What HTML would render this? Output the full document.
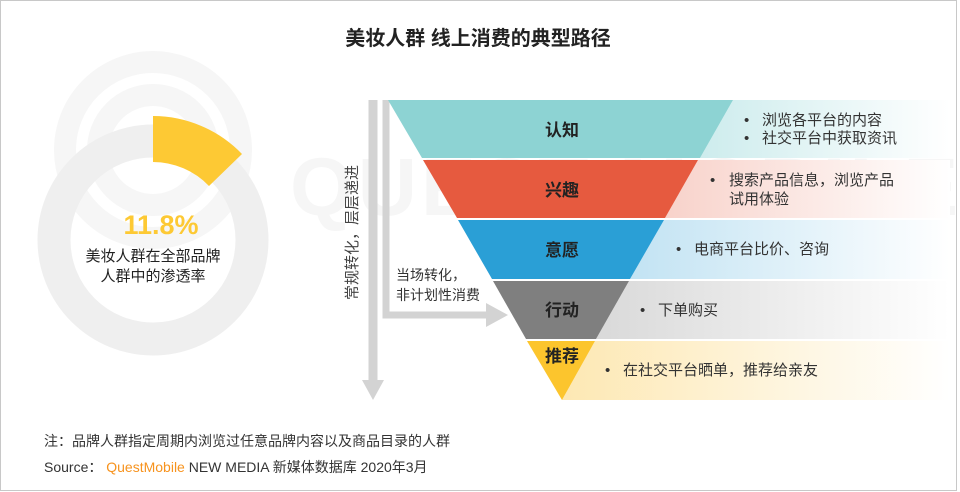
<!DOCTYPE html>
<html><head><meta charset="utf-8"><style>
html,body{margin:0;padding:0;background:#fff}
svg{display:block}
text{font-family:"Liberation Sans","Noto Sans CJK SC",sans-serif}
</style></head><body>
<svg width="960" height="492" viewBox="0 0 960 492" xmlns="http://www.w3.org/2000/svg">
<defs>
<linearGradient id="g1" x1="0" x2="1"><stop offset="0" stop-color="#cdeced"/><stop offset="1" stop-color="#fff"/></linearGradient>
<linearGradient id="g2" x1="0" x2="1"><stop offset="0" stop-color="#f8d2ca"/><stop offset="1" stop-color="#fff"/></linearGradient>
<linearGradient id="g3" x1="0" x2="1"><stop offset="0" stop-color="#c2e3f3"/><stop offset="1" stop-color="#fff"/></linearGradient>
<linearGradient id="g4" x1="0" x2="1"><stop offset="0" stop-color="#d9d9d9"/><stop offset="1" stop-color="#fff"/></linearGradient>
<linearGradient id="g5" x1="0" x2="1"><stop offset="0" stop-color="#fde8b3"/><stop offset="1" stop-color="#fff"/></linearGradient>
</defs>
<rect x="0.5" y="0.5" width="956" height="490" fill="#fff" stroke="#c8c8c8"/>
<!-- watermark -->
<g fill="none" stroke="#f6f6f6" stroke-width="22">
<circle cx="153" cy="150" r="88"/>
<circle cx="153" cy="150" r="55"/>
</g>
<text x="290" y="215" font-size="82" font-weight="bold" fill="#f6f6f6" letter-spacing="4">QUEST MOBILE</text>
<!-- title -->
<text x="478" y="45" font-size="20" font-weight="bold" fill="#222" text-anchor="middle">美妆人群 线上消费的典型路径</text>
<!-- donut -->
<circle cx="153" cy="240" r="99" fill="none" stroke="#efefef" stroke-width="33"/>
<path d="M153 116 A124 124 0 0 1 242 154 L209 186 A78 78 0 0 0 153 162 Z" fill="#fdc934"/>
<text x="161" y="234" font-size="27" font-weight="bold" fill="#fdc934" text-anchor="middle">11.8%</text>
<text x="153" y="261" font-size="15" fill="#222" text-anchor="middle">美妆人群在全部品牌</text>
<text x="153" y="281" font-size="15" fill="#222" text-anchor="middle">人群中的渗透率</text>
<!-- arrows -->
<line x1="373" y1="100" x2="373" y2="382" stroke="#d3d3d3" stroke-width="9"/>
<polygon points="362,380 384,380 373,400" fill="#d3d3d3"/>
<polyline points="386,100 386,315 488,315" fill="none" stroke="#d3d3d3" stroke-width="7"/>
<polygon points="486,303 486,327 508,315" fill="#d3d3d3"/>
<text transform="translate(357,300) rotate(-90)" font-size="15" fill="#444">常规转化，层层递进</text>
<text x="396" y="280" font-size="14" fill="#333">当场转化，</text>
<text x="396" y="300" font-size="14" fill="#333">非计划性消费</text>
<!-- gradients -->
<polygon points="733,100 950,100 950,158 700,158" fill="url(#g1)"/>
<polygon points="698,160 950,160 950,218 665,218" fill="url(#g2)"/>
<polygon points="664,220 950,220 950,279 630,279" fill="url(#g3)"/>
<polygon points="629,281 950,281 950,339 596,339" fill="url(#g4)"/>
<polygon points="595,341 950,341 950,400 562,400" fill="url(#g5)"/>
<!-- funnel -->
<polygon points="388,100 733,100 700,158 422,158" fill="#8dd3d3"/>
<polygon points="423,160 698,160 665,218 457,218" fill="#e65a3f"/>
<polygon points="458,220 664,220 630,279 492,279" fill="#2a9fd6"/>
<polygon points="493,281 629,281 596,339 526,339" fill="#7f7f7f"/>
<polygon points="527,341 595,341 562,400" fill="#fcc52d"/>
<g font-size="17" font-weight="bold" fill="#222" text-anchor="middle">
<text x="562" y="136">认知</text>
<text x="562" y="196">兴趣</text>
<text x="562" y="256">意愿</text>
<text x="562" y="316">行动</text>
<text x="562" y="362">推荐</text>
</g>
<g font-size="15" fill="#333">
<text x="744" y="125">•</text><text x="762" y="125">浏览各平台的内容</text>
<text x="744" y="143">•</text><text x="762" y="143">社交平台中获取资讯</text>
<text x="710" y="185">•</text><text x="729" y="185">搜索产品信息，浏览产品</text>
<text x="729" y="204">试用体验</text>
<text x="676" y="254">•</text><text x="694" y="254">电商平台比价、咨询</text>
<text x="640" y="315">•</text><text x="658" y="315">下单购买</text>
<text x="605" y="375">•</text><text x="623" y="375">在社交平台晒单，推荐给亲友</text>
</g>
<text x="44" y="446" font-size="14" fill="#333">注：品牌人群指定周期内浏览过任意品牌内容以及商品目录的人群</text>
<text x="44" y="472" font-size="14" fill="#333">Source： <tspan fill="#f7931e">QuestMobile</tspan> NEW MEDIA 新媒体数据库 2020年3月</text>
</svg>
</body></html>
